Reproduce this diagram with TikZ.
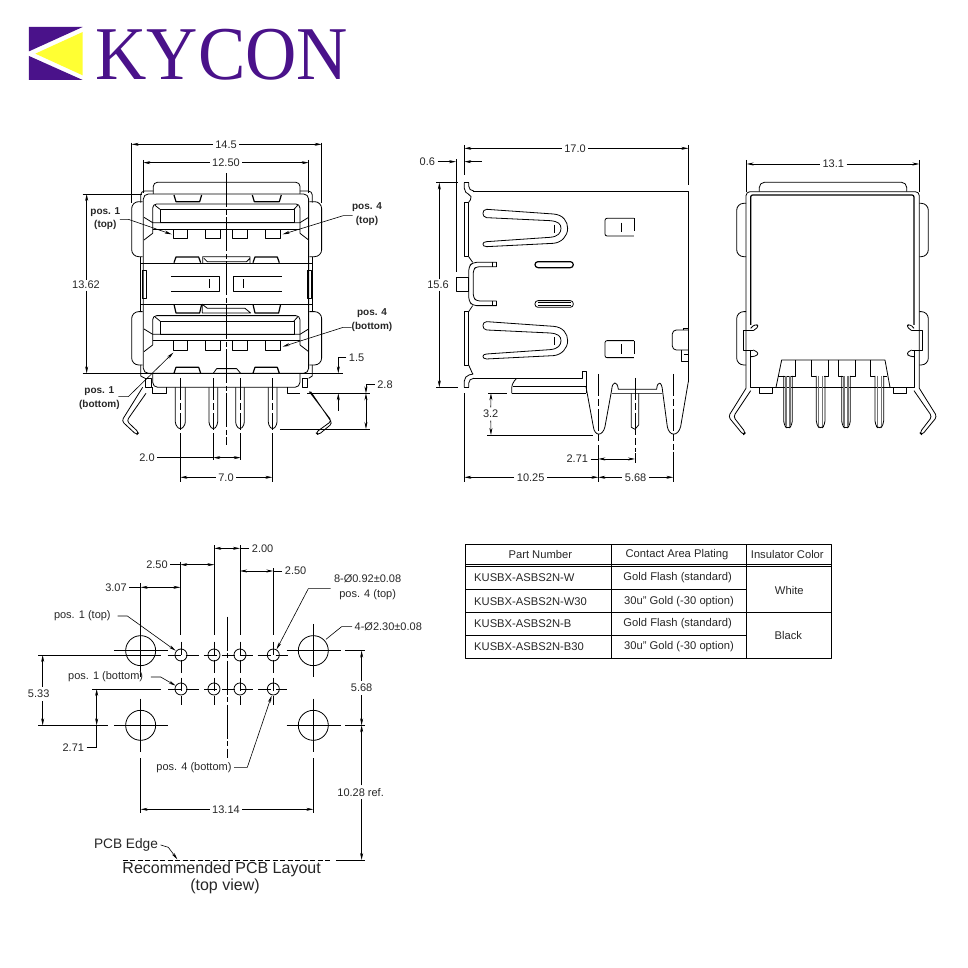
\documentclass[tikz,border=0pt]{standalone}
\usepackage{fontspec}
\setmainfont{Liberation Sans}
\newfontfamily\logofont{Liberation Serif}
\usetikzlibrary{arrows.meta}
\definecolor{kypurple}{HTML}{4A128A}
\definecolor{kyyellow}{HTML}{FFFF33}
\tikzset{
    body/.style={draw=black, line width=.8pt, line join=round},
    thickbody/.style={draw=black, line width=1.2pt, line join=round},
    extline/.style={draw=black, line width=.6pt},
    centerdash/.style={draw=black, line width=.6pt, dash pattern=on 22pt off 3pt on 7pt off 3pt},
    holedash/.style={draw=black, line width=.6pt, dash pattern=on 13pt off 5pt},
    centerlong/.style={draw=black, line width=.6pt, dash pattern=on 34pt off 2.5pt on 5pt off 2.5pt},
    dimline/.style={draw=black, line width=.6pt, -{Stealth[length=7pt,width=3pt]}},
    dimboth/.style={draw=black, line width=.6pt, {Stealth[length=7pt,width=3pt]}-{Stealth[length=7pt,width=3pt]}},
    dimtext/.style={font=\fontsize{11}{12}\selectfont, inner sep=2.5pt, text=black!85},
    postext/.style={font=\fontsize{10}{13.5}\selectfont\bfseries, inner sep=1pt, align=center, text=black!85},
    celltext/.style={font=\fontsize{11.2}{12}\selectfont, inner sep=0pt, text=black!85},
    titletext/.style={font=\fontsize{16}{17}\selectfont, inner sep=0pt, text=black!85},
}
\begin{document}
\begin{tikzpicture}[x=1pt, y=-1pt]
    \useasboundingbox (0,0) rectangle (968,968);

    % logo
    \begin{scope}[shift={(10,10)}, x=.3333pt, y=-.3333pt]
        \fill[kypurple] (57,51) -- (218,51) -- (57,124) -- cycle;
        \fill[kypurple] (57,138) -- (218,210) -- (57,210) -- cycle;
        \fill[kyyellow] (218,66) -- (218,196) -- (76,131) -- cycle;
        \node[anchor=base west, inner sep=0pt, text=kypurple, xscale=.935, font=\fontsize{76}{76}\logofont] (logotext) at (256,208) {KYCON};
    \end{scope}

    % front view
    \begin{scope}[shift={(70,130)}, x=.3333pt, y=-.3333pt]
        \draw[body, rounded corners=4pt] (250,192) -- (250,157) -- (690,157) -- (690,192);
        \draw[body, rounded corners=5pt] (220,730) -- (220,192) -- (716,192) -- (716,730) -- cycle;
        \draw[body, rounded corners=4pt] (250,183) -- (212,183) -- (212,218);
        \draw[body, rounded corners=4pt] (690,183) -- (727,183) -- (727,218);
        \draw[body] (212,380) -- (212,545) (727,380) -- (727,545);
        \draw[body] (212,705) -- (212,738) -- (225,745) (727,705) -- (727,738) -- (716,745);
        \draw[body] (212,400) -- (727,400) (212,523) -- (727,523);
        \draw[body] (216,420) rectangle (230,505) (712,420) rectangle (724,505);
        \draw[body] (303,440) -- (448,440) -- (448,484) -- (303,484);
        \draw[body] (636,440) -- (490,440) -- (490,484) -- (636,484);
        \draw[body] (418,448) -- (418,475) (520,448) -- (520,475);
        \foreach \ya/\yb in {215/380, 545/705} {
            \draw[body, rounded corners=7pt] (218,\ya) -- (185,\ya) -- (185,\yb) -- (218,\yb);
            \draw[body, rounded corners=7pt] (718,\ya) -- (755,\ya) -- (755,\yb) -- (718,\yb);
        }
        \foreach \yo in {0, 335} {
            \begin{scope}[shift={(0,\yo)}]
                \draw[body, rounded corners=4pt] (248,310) -- (248,222) -- (690,222) -- (690,310);
                \draw[body] (248,297) -- (690,297);
                \draw[body] (270,238) rectangle (672,278);
                \draw[body] (248,278) -- (672,278) -- (690,278) (255,226) -- (270,238) (683,226) -- (672,238);
                \draw[body] (222,262) -- (248,278) (222,330) -- (248,310) (716,262) -- (690,278) (716,330) -- (690,310);
                \draw[body] (310,297) rectangle (353,325) (406,297) rectangle (451,325) (488,297) rectangle (533,325) (587,297) rectangle (632,325);
            \end{scope}
        }
        \foreach \xa/\xb/\ya/\yb in {312/395/195/215, 547/634/195/215, 312/392/398/381, 549/628/398/381, 312/395/523/549, 549/632/523/549, 312/392/730/712, 549/628/730/712} {
            \draw[thickbody] (\xa,\ya) -- ({\xa+6},\yb) -- ({\xb-6},\yb) -- (\xb,\ya);
        }
        \draw[body] (398,400) -- (398,380) -- (540,380) -- (540,400) (402,385) -- (412,395) -- (530,395) -- (540,385);
        \draw[body] (397,523) -- (412,535) -- (525,535) -- (542,549) -- (397,549) -- cycle;
        \draw[body] (430,730) -- (440,716) -- (500,716) -- (512,730);
        \draw[body, rounded corners=5pt] (248,730) -- (248,772) -- (690,772) -- (690,730);
        \draw[body] (227,745) rectangle (245,772);
        \draw[body] (248,772) -- (248,790) -- (288,790) -- (288,772);
        \draw[body] (652,772) -- (652,790) -- (690,790) (697,745) rectangle (712,772);
        \draw[body, rounded corners=3pt] (218,772) -- (155,873) -- (200,915) -- (207,908) -- (170,873) -- (228,790);
        \draw[body, rounded corners=3pt] (718,785) -- (785,873) -- (737,908) -- (745,915) -- (787,880) -- (722,785);
        \foreach \px/\hw in {331/15, 430/13, 510/13, 608/13} {
            \draw[body, rounded corners=3pt] ({\px-\hw},772) -- ({\px-\hw},885) -- (\px,900) -- ({\px+\hw},885) -- ({\px+\hw},772);
            \draw[centerdash] (\px,745) -- (\px,900);
        }
        \draw[centerlong] (469,130) -- (469,945);

        \coordinate (wideL) at (185,43);
        \coordinate (wideR) at (755,43);
        \coordinate (pitchL) at (220,98);
        \coordinate (pitchR) at (716,98);
        \coordinate (highT) at (50,192);
        \coordinate (highB) at (50,730);
        \node[dimtext] (wideText) at (468,43) {14.5};
        \node[dimtext] (pitchText) at (468,98) {12.50};
        \node[dimtext] (highText) at (48,465) {13.62};
        \draw[dimline] (wideText) -- (wideL);
        \draw[dimline] (wideText) -- (wideR);
        \draw[dimline] (pitchText) -- (pitchL);
        \draw[dimline] (pitchText) -- (pitchR);
        \draw[dimline] (50,450) -- (highT);
        \draw[dimline] (50,482) -- (highB);
        \draw[extline] (185,38) -- (185,218) (755,38) -- (755,218);
        \draw[extline] (220,90) -- (220,190) (716,90) -- (716,190);
        \draw[extline] (38,192) -- (215,192) (38,730) -- (818,730);

        \node[postext] (posTopA) at (106,266) {pos. 1\\(top)};
        \node[postext] (posTopD) at (891,253) {pos. 4\\(top)};
        \node[postext] (posBotD) at (906,571) {pos. 4\\(bottom)};
        \node[postext] (posBotA) at (88,805) {pos. 1\\(bottom)};
        \coordinate (posTopAtip) at (305,313);
        \coordinate (posTopDtip) at (638,313);
        \coordinate (posBotDtip) at (638,650);
        \coordinate (posBotAtip) at (310,668);
        \draw[dimline] (150,268) -- (175,268) -- (posTopAtip);
        \draw[dimline] (848,257) -- (820,257) -- (posTopDtip);
        \draw[dimline] (845,592) -- (820,592) -- (posBotDtip);
        \draw[dimline] (145,800) -- (175,800) -- (posBotAtip);

        \node[dimtext] (shellText) at (860,682) {1.5};
        \node[dimtext] (tailText) at (945,763) {2.8};
        \coordinate (shellTip) at (805,730);
        \coordinate (tailT) at (888,790);
        \coordinate (tailB) at (888,897);
        \draw[dimline] (shellText) -- (805,682) -- (shellTip);
        \draw[dimline] (805,842) -- (805,790);
        \draw[dimline] (tailText) -- (888,763) -- (tailT);
        \draw[dimboth] (tailT) -- (tailB);
        \draw[extline] (712,790) -- (900,790) (630,897) -- (900,897);

        \node[dimtext] (gapText) at (231,983) {2.0};
        \node[dimtext] (spanText) at (468,1042) {7.0};
        \coordinate (gapL) at (430,983);
        \coordinate (gapR) at (512,983);
        \coordinate (spanL) at (331,1042);
        \coordinate (spanR) at (607,1042);
        \draw[extline] (gapText) -- (gapL);
        \draw[dimboth] (gapL) -- (gapR);
        \draw[dimline] (spanText) -- (spanL);
        \draw[dimline] (spanText) -- (spanR);
        \draw[extline] (430,910) -- (430,990) (512,910) -- (512,990);
        \draw[extline] (331,910) -- (331,1055) (607,910) -- (607,1055);
    \end{scope}

    % side view
    \begin{scope}[shift={(410,130)}, x=.3333pt, y=-.3333pt]
        \draw[body] (188,183) -- (835,183) -- (835,755);
        \draw[body, rounded corners=5pt] (163,158) -- (163,190) -- (190,197) -- (176,217);
        \draw[body, rounded corners=5pt] (176,158) -- (176,183) -- (190,183);
        \draw[body] (163,158) -- (176,158);
        \draw[body] (163,217) rectangle (176,380);
        \draw[body] (176,380) -- (188,397);
        \draw[body] (176,545) -- (188,527);
        \draw[body] (163,545) rectangle (176,705);
        \draw[body] (176,705) -- (188,732);
        \draw[body, rounded corners=5pt] (163,772) -- (163,738) -- (190,732);
        \draw[body, rounded corners=5pt] (176,772) -- (176,745) -- (190,745);
        \draw[body] (163,772) -- (176,772);
        \draw[body, rounded corners=4pt] (260,397) -- (188,397) -- (176,410) -- (176,513) -- (188,527) -- (260,527);
        \draw[body, rounded corners=3pt] (260,410) -- (200,410) -- (190,418) -- (190,503) -- (200,513) -- (260,513);
        \draw[body] (260,397) -- (260,410) (248,397) -- (248,410) (260,513) -- (260,527) (248,513) -- (248,527);
        \draw[body] (140,443) rectangle (176,483);
        \draw[thickbody, rounded corners=3pt] (375,395) rectangle (490,413);
        \draw[body, rounded corners=3pt] (375,512) rectangle (490,532);
        \draw[body] (384,518) -- (482,518) (384,526) -- (482,526);
        \foreach \yo in {0, 337} {
            \begin{scope}[shift={(0,\yo)}]
                \draw[body] (230,238) -- (430,252) .. controls (460,254) and (473,275) .. (473,295) .. controls (473,318) and (455,338) .. (430,340) -- (230,350) .. controls (215,350) and (215,335) .. (230,335) -- (420,322) .. controls (445,320) and (453,308) .. (453,295) .. controls (453,282) and (445,274) .. (420,272) -- (230,263) .. controls (215,262) and (215,238) .. (230,238) -- cycle;
                \draw[body] (433,284) -- (433,308);
            \end{scope}
        }
        \draw[body, rounded corners=2pt] (672,265) -- (585,265) -- (585,318) -- (672,318);
        \draw[body, rounded corners=2pt] (672,632) -- (585,632) -- (585,683) -- (672,683);
        \draw[holedash] (672,265) -- (672,318) (672,632) -- (672,683);
        \draw[body] (634,278) -- (634,305) (634,642) -- (634,672);
        \draw[body, rounded corners=4pt] (835,600) -- (787,600) -- (787,660) -- (835,660);
        \draw[body] (820,600) -- (820,595) -- (835,595);
        \draw[body] (815,660) -- (815,695) -- (835,695) (822,672) -- (835,672);
        \draw[body] (188,745) -- (517,745) -- (517,723) -- (528,723) -- (528,790);
        \draw[body, rounded corners=4pt] (320,745) -- (305,762) -- (305,790);
        \draw[body] (305,790) -- (528,790) (310,770) -- (528,770);
        \draw[body] (528,770) -- (550,890) .. controls (554,920) and (578,920) .. (585,890) -- (605,780) .. controls (607,752) and (622,752) .. (625,778) -- (740,778) .. controls (742,752) and (756,752) .. (758,785) -- (772,890) .. controls (778,920) and (804,920) .. (812,890) -- (835,755);
        \draw[thickbody, draw=black!70] (605,790) -- (755,790);
        \draw[body] (664,790) -- (664,892) -- (675,898) -- (686,885) -- (686,790);
        \draw[centerdash] (565,732) -- (565,940) (675,744) -- (675,965) (790,732) -- (790,960);

        \coordinate (lenL) at (163,55);
        \coordinate (lenR) at (835,55);
        \coordinate (tabL) at (138,95);
        \coordinate (tabR) at (163,95);
        \coordinate (sideT) at (88,158);
        \coordinate (sideB) at (88,772);
        \coordinate (tailAT) at (243,790);
        \coordinate (tailAB) at (243,915);
        \coordinate (frontM) at (565,1042);
        \coordinate (frontL) at (163,1042);
        \coordinate (frontR) at (790,1042);
        \coordinate (pegA) at (565,987);
        \coordinate (pegB) at (675,987);
        \node[dimtext] (lenText) at (495,55) {17.0};
        \node[dimtext] (tabText) at (52,95) {0.6};
        \node[dimtext] (sideText) at (84,465) {15.6};
        \node[dimtext] (tailAText) at (242,852) {3.2};
        \node[dimtext] (pegText) at (502,987) {2.71};
        \node[dimtext] (frontText) at (362,1042) {10.25};
        \node[dimtext] (rearText) at (677,1042) {5.68};
        \draw[dimline] (lenText) -- (lenL);
        \draw[dimline] (lenText) -- (lenR);
        \draw[dimline] (tabText) -- (tabL);
        \draw[dimline] (215,95) -- (tabR);
        \draw[dimline] (88,448) -- (sideT);
        \draw[dimline] (88,482) -- (sideB);
        \draw[dimline] (tailAText) -- (tailAT);
        \draw[dimline] (tailAText) -- (tailAB);
        \draw[extline] (pegText) -- (pegA);
        \draw[dimboth] (pegA) -- (pegB);
        \draw[dimline] (frontText) -- (frontL);
        \draw[dimline] (frontText) -- (frontM);
        \draw[dimline] (rearText) -- (frontM);
        \draw[dimline] (rearText) -- (frontR);
        \draw[extline] (163,45) -- (163,135) (835,45) -- (835,165) (138,88) -- (138,425);
        \draw[extline] (78,158) -- (145,158) (78,772) -- (145,772);
        \draw[extline] (235,790) -- (292,790) (232,915) -- (550,915);
        \draw[extline] (163,790) -- (163,1055) (565,945) -- (565,1055) (675,970) -- (675,1000) (790,965) -- (790,1055);
    \end{scope}

    % rear view
    \begin{scope}[shift={(710,140)}, x=.3333pt, y=-.3333pt]
        \draw[body, rounded corners=5pt] (148,155) -- (148,127) -- (590,127) -- (590,155);
        \draw[body, rounded corners=4pt] (108,745) -- (108,155) -- (628,155) -- (628,745);
        \draw[thickbody, rounded corners=2pt] (122,555) -- (122,165) -- (612,165) -- (612,555);
        \foreach \ya/\yb in {190/350, 515/675} {
            \draw[body, rounded corners=7pt] (108,\ya) -- (80,\ya) -- (80,\yb) -- (108,\yb);
            \draw[body, rounded corners=7pt] (628,\ya) -- (655,\ya) -- (655,\yb) -- (628,\yb);
        }
        \draw[body] (130,572) -- (100,572) -- (100,630) -- (130,630);
        \draw[body] (605,572) -- (637,572) -- (637,630) -- (605,630);
        \draw[body, rounded corners=3pt] (122,565) -- (135,552) -- (148,558) -- (130,572);
        \draw[body, rounded corners=3pt] (612,565) -- (600,552) -- (588,558) -- (605,572);
        \draw[body, rounded corners=3pt] (122,650) -- (135,650) -- (148,640) -- (130,630);
        \draw[body, rounded corners=3pt] (612,650) -- (600,650) -- (588,640) -- (605,630);
        \draw[body] (122,630) -- (122,742) -- (612,742) -- (612,630);
        \draw[body] (148,742) rectangle (188,760) (550,742) rectangle (588,760);
        \draw[body] (198,742) -- (215,660) -- (525,660) -- (540,742);
        \draw[body] (205,708) -- (255,708) -- (255,660);
        \foreach \hx in {305, 385} {
            \draw[body] (\hx,660) -- (\hx,708) -- ({\hx+14},708) ({\hx+36},708) -- ({\hx+50},708) -- ({\hx+50},660);
        }
        \draw[body] (482,660) -- (482,708) -- (494,708) (520,708) -- (530,708);
        \draw[body, rounded corners=3pt] (108,745) -- (55,830) -- (100,885) -- (107,878) -- (70,830) -- (122,752);
        \draw[body, rounded corners=3pt] (628,745) -- (681,830) -- (636,885) -- (629,878) -- (666,830) -- (612,752);
        \foreach \px in {234, 332, 408, 508} {
            \draw[body, rounded corners=4pt] ({\px-13},708) -- ({\px-13},855) -- (\px,868) -- ({\px+13},855) -- ({\px+13},708);
            \draw[thickbody, draw=black!55] ({\px-6},708) -- ({\px-6},858) ({\px+6},708) -- ({\px+6},858);
        }
        \coordinate (rearL) at (110,72);
        \coordinate (rearR) at (628,72);
        \node[dimtext] (rearWide) at (370,72) {13.1};
        \draw[dimline] (rearWide) -- (rearL);
        \draw[dimline] (rearWide) -- (rearR);
        \draw[extline] (110,60) -- (110,155) (628,60) -- (628,155);
    \end{scope}

    % layout
    \begin{scope}[shift={(40,530)}, x=.3333pt, y=-.3333pt]
        \foreach \bx/\by in {302/362, 820/362, 302/586, 820/586} {
            \draw[body] (\bx,\by) circle [radius=45];
            \draw[extline] ({\bx-80},\by) -- ({\bx+83},\by) (\bx,{\by-80}) -- (\bx,{\by+79});
        }
        \foreach \hx in {423, 522, 600, 700} {
            \draw[body] (\hx,375) circle [radius=18];
            \draw[body] (\hx,477) circle [radius=18];
            \draw[holedash] (\hx,335) -- (\hx,525);
        }
        \draw[holedash] (383,375) -- (745,375) (385,477) -- (742,477);
        \draw[centerlong] (562,260) -- (562,685);
        \draw[extline] (-6,375) -- (362,375) (157,477) -- (362,477) (-6,586) -- (205,586);
        \draw[extline] (915,362) -- (975,362) (915,586) -- (975,586);
        \draw[extline] (302,160) -- (302,282) (421,95) -- (421,315) (523,45) -- (523,315) (600,45) -- (600,315) (700,115) -- (700,315);
        \draw[extline] (302,685) -- (302,848) (820,685) -- (820,848);

        \coordinate (padA) at (523,55);
        \coordinate (padB) at (600,55);
        \coordinate (padC) at (421,104);
        \coordinate (padD) at (523,104);
        \coordinate (padE) at (600,123);
        \coordinate (padF) at (700,123);
        \coordinate (padG) at (302,172);
        \coordinate (padH) at (421,172);
        \node[dimtext] (padText) at (668,55) {2.00};
        \node[dimtext] (pitchLeft) at (351,104) {2.50};
        \node[dimtext] (pitchRight) at (767,123) {2.50};
        \node[dimtext] (edgeText) at (228,172) {3.07};
        \draw[dimboth] (padA) -- (padB);
        \draw[extline] (padText) -- (padB);
        \draw[dimboth] (padC) -- (padD);
        \draw[extline] (pitchLeft) -- (padC);
        \draw[dimboth] (padE) -- (padF);
        \draw[extline] (pitchRight) -- (padF);
        \draw[dimboth] (padG) -- (padH);
        \draw[extline] (edgeText) -- (padG);

        \node[dimtext, align=center, font=\fontsize{11}{15.5}\selectfont] (holeText) at (983,172) {8-Ø0.92±0.08\\pos. 4 (top)};
        \node[dimtext] (bigText) at (1045,290) {4-Ø2.30±0.08};
        \node[dimtext] (labTopA) at (127,256) {pos. 1 (top)};
        \node[dimtext] (labBotA) at (197,441) {pos. 1 (bottom)};
        \node[dimtext] (labBotD) at (462,712) {pos. 4 (bottom)};
        \coordinate (holeTip) at (710,358);
        \coordinate (bigTip) at (858,328);
        \coordinate (labTopATip) at (407,362);
        \coordinate (labBotATip) at (407,467);
        \coordinate (labBotDTip) at (695,497);
        \draw[dimline] (872,176) -- (805,176) -- (holeTip);
        \draw[extline] (bigText) -- (905,290) -- (bigTip);
        \draw[dimline] (233,258) -- (262,258) -- (labTopATip);
        \draw[dimline] (333,441) -- (362,441) -- (labBotATip);
        \draw[dimline] (labBotD) -- (622,712) -- (labBotDTip);

        \coordinate (offT) at (8,375);
        \coordinate (offB) at (8,586);
        \coordinate (rowT) at (170,477);
        \coordinate (rowB) at (170,586);
        \coordinate (bigT) at (965,362);
        \coordinate (bigB) at (965,586);
        \coordinate (edgeT) at (965,586);
        \coordinate (edgeB) at (965,990);
        \coordinate (acrossL) at (302,838);
        \coordinate (acrossR) at (820,838);
        \node[dimtext] (offText) at (-4,492) {5.33};
        \node[dimtext] (rowText) at (100,652) {2.71};
        \node[dimtext] (bigDim) at (965,474) {5.68};
        \node[dimtext] (refText) at (962,787) {10.28 ref.};
        \node[dimtext] (acrossText) at (558,838) {13.14};
        \draw[dimline] (8,470) -- (offT);
        \draw[dimline] (8,514) -- (offB);
        \draw[dimboth] (rowT) -- (rowB);
        \draw[extline] (rowText) -- (170,652) -- (rowB);
        \draw[dimline] (965,452) -- (bigT);
        \draw[dimline] (965,496) -- (bigB);
        \draw[dimline] (965,766) -- (edgeT);
        \draw[dimline] (965,808) -- (edgeB);
        \draw[dimline] (acrossText) -- (acrossL);
        \draw[dimline] (acrossText) -- (acrossR);

        \node[dimtext, font=\fontsize{13.7}{15}\selectfont] (edgeLabel) at (258,945) {PCB Edge};
        \node[titletext] (titleA) at (545,1018) {Recommended PCB Layout};
        \node[titletext] (titleB) at (555,1070) {(top view)};
        \coordinate (edgeTip) at (412,988);
        \draw[dimline] (edgeLabel.east) -- (385,952) -- (edgeTip);
        \draw[draw=black, line width=.6pt, dash pattern=on 5pt off 2.5pt] (248,990) -- (875,990);
        \draw[extline] (888,990) -- (975,990);
    \end{scope}

    % table
    \begin{scope}[shift={(460,535)}, x=.3333pt, y=-.3333pt]
        \draw[body] (15,28) rectangle (1113,370);
        \draw[body] (455,28) -- (455,370) (860,28) -- (860,370);
        \draw[body] (15,87) -- (1113,87) (15,95) -- (1113,95);
        \draw[body] (15,163) -- (860,163) (15,232) -- (1113,232) (15,300) -- (860,300);
        \node[celltext] (headPart) at (241,58) {Part Number};
        \node[celltext] (headPlating) at (651,58) {Contact Area Plating};
        \node[celltext] (headColor) at (982,58) {Insulator Color};
        \node[celltext, anchor=west] (partA) at (42,127) {KUSBX-ASBS2N-W};
        \node[celltext, anchor=west] (partB) at (42,199) {KUSBX-ASBS2N-W30};
        \node[celltext, anchor=west] (partC) at (42,265) {KUSBX-ASBS2N-B};
        \node[celltext, anchor=west] (partD) at (42,336) {KUSBX-ASBS2N-B30};
        \node[celltext] (platingA) at (653,127) {Gold Flash (standard)};
        \node[celltext] (platingB) at (657,199) {30u" Gold (-30 option)};
        \node[celltext] (platingC) at (653,265) {Gold Flash (standard)};
        \node[celltext] (platingD) at (657,336) {30u" Gold (-30 option)};
        \node[celltext] (colorW) at (988,165) {White};
        \node[celltext] (colorB) at (985,303) {Black};
    \end{scope}
\end{tikzpicture}
\end{document}
